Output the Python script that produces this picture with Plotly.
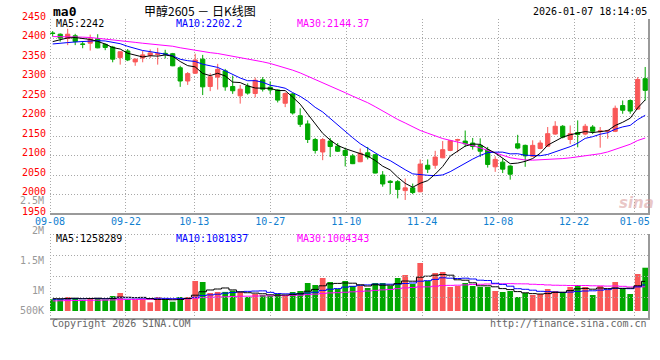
import plotly.graph_objects as go

# ---------------- data ----------------
dates = ["09-08","09-09","09-10","09-11","09-12","09-15","09-16","09-17","09-18","09-19",
         "09-22","09-23","09-24","09-25","09-26","09-29","09-30",
         "10-09","10-10","10-13","10-14","10-15","10-16","10-17","10-20","10-21","10-22","10-23","10-24",
         "10-27","10-28","10-29","10-30","10-31",
         "11-03","11-04","11-05","11-06","11-07","11-10","11-11","11-12","11-13","11-14",
         "11-17","11-18","11-19","11-20","11-21","11-24","11-25","11-26","11-27","11-28",
         "12-01","12-02","12-03","12-04","12-05","12-08","12-09","12-10","12-11","12-12",
         "12-15","12-16","12-17","12-18","12-19","12-22","12-23","12-24","12-25","12-26",
         "12-29","12-30","12-31","01-05","01-06","01-07"]

opens  = [2414,2411,2400,2407,2386,2388,2399,2385,2378,2351,2368,2340,2350,2357,2359,2362,2361,2325,2291,2311,
          2347,2277,2301,2317,2277,2253,2278,2259,2294,2275,2268,2234,2258,2202,2181,2141,2109,2137,2124,2113,
          2099,2084,2107,2102,2050,2034,2033,2010,2017,2007,2075,2075,2094,2113,2139,2137,2132,2126,2114,2071,
          2083,2073,2130,2126,2098,2118,2124,2155,2175,2141,2159,2155,2173,2161,2162,2162,2228,2241,2219,2297]
highs  = [2419,2413,2425,2412,2392,2410,2411,2387,2381,2367,2373,2349,2368,2372,2376,2371,2363,2330,2314,2361,
          2358,2311,2335,2322,2305,2281,2285,2300,2301,2290,2270,2262,2260,2221,2190,2145,2145,2145,2132,2120,
          2104,2118,2122,2104,2060,2037,2037,2041,2028,2090,2090,2112,2137,2140,2143,2164,2145,2144,2122,2098,
          2093,2075,2153,2128,2139,2139,2173,2188,2178,2177,2190,2181,2178,2173,2166,2228,2241,2244,2301,2327]
lows   = [2405,2392,2383,2383,2375,2369,2375,2370,2339,2333,2342,2330,2339,2350,2333,2349,2329,2276,2281,2309,
          2255,2265,2269,2266,2258,2233,2256,2249,2264,2258,2236,2224,2205,2173,2132,2105,2088,2096,2109,2072,
          2078,2083,2090,2054,2020,2001,1990,1986,2001,2006,2055,2066,2093,2111,2108,2122,2115,2096,2069,2058,
          2055,2038,2116,2071,2096,2116,2122,2153,2144,2129,2121,2152,2155,2120,2143,2160,2207,2207,2217,2241]
closes = [2413,2401,2411,2392,2385,2399,2376,2377,2347,2366,2345,2347,2358,2363,2361,2360,2330,2291,2310,2345,
          2276,2302,2321,2276,2266,2270,2260,2293,2270,2268,2242,2259,2209,2180,2141,2113,2141,2123,2111,2100,
          2079,2106,2096,2055,2027,2031,2013,2017,2005,2078,2065,2096,2115,2138,2141,2130,2123,2111,2077,2090,
          2065,2052,2119,2099,2126,2132,2156,2175,2147,2156,2154,2175,2162,2163,2164,2221,2216,2214,2295,2267]
volumes = [857000,857000,895000,878000,845000,878000,878000,845000,912000,962000,
           857000,845000,867000,806000,895000,857000,817000,895000,895000,1162000,
           1145000,962000,978000,980000,1000000,978000,895000,945000,928000,912000,
           945000,912000,978000,995000,1128000,1095000,1212000,1145000,1028000,1162000,
           1078000,1078000,1045000,1128000,1128000,1078000,1212000,1262000,1112000,1462000,
           1162000,1295000,1312000,1062000,1078000,1128000,1078000,1062000,1062000,995000,
           978000,995000,895000,962000,928000,945000,1028000,995000,978000,1062000,
           1095000,1062000,928000,1078000,1012000,1145000,1028000,945000,1278000,1383000]

# sessions before 09-08 (only needed to start the moving averages)
prior_closes = [2400,2405,2410,2420,2425,2430,2428,2420,2415,2418,2422,2425,2420,2412,2408,
                2405,2410,2412,2404,2401,2392,2385,2376,2372,2375,2380,2384,2388,2395]
prior_volumes = [800000,780000,850000,820000,790000,840000,810000,830000,800000,770000,
                 860000,820000,800000,840000,810000,790000,830000,820000,850000,820000,
                 840000,860000,830000,850000,855000,860000,880000,850000,888000]

tick_dates = ["09-08","09-22","10-13","10-27","11-10","11-24","12-08","12-22","01-05"]
price_ticks = [1950,2000,2050,2100,2150,2200,2250,2300,2350,2400,2450]
vol_tick_values = [500000,1000000,1500000,2000000,2500000]
vol_tick_labels = ["500K","1M","1.5M","2M","2.5M"]
price_ma_text = ["MA5:2242","MA10:2202.2","MA30:2144.37"]
vol_ma_text = ["MA5:1258289","MA10:1081837","MA30:1004343"]
title_text = "甲醇2605 － 日K线图"
code_text = "ma0"
time_text = "2026-01-07 18:14:05"
copyright_text = "Copyright 2026 SINA.COM"
url_text = "http://finance.sina.com.cn"

# ---------------- style ----------------
W, H = 660, 360
RED, GREEN = "#F95858", "#00A800"
MA_COLORS = ["#000000", "#0000FF", "#FF00FF"]
GRID = "#A8A8A8"
FRAME = "#9A9A9A"
MONO = "DejaVu Sans Mono"

def ma(series, prior, n):
    full = prior + series
    off = len(prior)
    return [sum(full[off + i - n + 1: off + i + 1]) / n for i in range(len(series))]

def px(xp):
    return xp / W

def py(yp):
    return 1 - yp / H

xs = list(range(len(dates)))
N = len(dates)
# candle i drawn at pixel 52.7 + 7.5*i ; plot spans 50..649 px
x0_px, step_px = 52.7, 7.5
x_range = [(50 - x0_px) / step_px, (649 - x0_px) / step_px]
# Sina places the date grid at 50 + i*600/(N-1) px
tick_pos = [(50 + dates.index(d) * 600 / (N - 1) - x0_px) / step_px for d in tick_dates]

# volume pane: value <-> pixel (labels 1M at y=290.7, 1.5M at y=260.7)
def vol_at(yp):
    return (350.7 - yp) / 60 * 1e6

def vol_px(v):
    return 350.7 - v / 1e6 * 60

vol_base = vol_at(311)

fig = go.Figure()

fig.add_trace(go.Candlestick(
    x=xs, open=opens, high=highs, low=lows, close=closes,
    increasing=dict(line=dict(color=RED, width=1), fillcolor=RED),
    decreasing=dict(line=dict(color=GREEN, width=1), fillcolor=GREEN),
    whiskerwidth=0, hoverinfo="skip", xaxis="x", yaxis="y", showlegend=False))

for n, c in zip([30, 10, 5], [MA_COLORS[2], MA_COLORS[1], MA_COLORS[0]]):
    fig.add_trace(go.Scatter(x=xs, y=ma(closes, prior_closes, n), mode="lines",
                             line=dict(color=c, width=1), hoverinfo="skip",
                             xaxis="x", yaxis="y", showlegend=False))

bar_colors = [RED if c >= o else GREEN for o, c in zip(opens, closes)]
fig.add_trace(go.Bar(x=xs, y=[v - vol_base for v in volumes], base=vol_base,
                     marker=dict(color=bar_colors, line=dict(width=0)), width=0.76,
                     hoverinfo="skip", xaxis="x2", yaxis="y2", showlegend=False))

for n, c in zip([30, 10, 5], [MA_COLORS[2], MA_COLORS[1], MA_COLORS[0]]):
    fig.add_trace(go.Scatter(x=xs, y=ma(volumes, prior_volumes, n), mode="lines",
                             line=dict(color=c, width=1, shape="hvh"), hoverinfo="skip",
                             xaxis="x2", yaxis="y2", showlegend=False))

xcommon = dict(range=x_range, tickvals=tick_pos, showgrid=True, gridcolor=GRID,
               griddash="1px,2px", gridwidth=1, zeroline=False, showline=False, ticks="",
               fixedrange=True, automargin=False)

fig.update_layout(
    width=W, height=H, autosize=False, margin=dict(l=0, r=0, t=0, b=0, pad=0),
    paper_bgcolor="white", plot_bgcolor="white", showlegend=False,
    boxgap=0.2,
    xaxis=dict(domain=[px(50), px(649)], anchor="y", ticktext=tick_dates,
               tickfont=dict(family=MONO, size=10, color="#1080D0"),
               rangeslider=dict(visible=False), ticklabelstandoff=0, **xcommon),
    xaxis2=dict(domain=[px(50), px(649)], anchor="y2", matches="x",
                showticklabels=False, **xcommon),
    yaxis=dict(domain=[py(214), py(19)], range=[1950, 2450], tickvals=price_ticks,
               tickfont=dict(family=MONO, size=10, color="#FF0000"),
               showgrid=True, gridcolor=GRID, griddash="1px,2px", gridwidth=1,
               zeroline=False, showline=False, ticks="", ticklabelshift=-3,
               ticklabelstandoff=3, fixedrange=True, automargin=False),
    yaxis2=dict(domain=[py(319), py(234)], range=[vol_at(319), vol_at(234)],
                showgrid=False, zeroline=False, showticklabels=False, ticks="",
                fixedrange=True, automargin=False),
)

shapes = []
def hline(y, x0, x1, color, width, dash=None):
    shapes.append(dict(type="line", xref="paper", yref="paper", x0=px(x0), x1=px(x1),
                       y0=py(y), y1=py(y), line=dict(color=color, width=width, dash=dash)))
def vline(x, y0, y1, color, width, dash=None):
    shapes.append(dict(type="line", xref="paper", yref="paper", x0=px(x), x1=px(x),
                       y0=py(y0), y1=py(y1), line=dict(color=color, width=width, dash=dash)))

# price pane frame
hline(214, 50, 650, FRAME, 2)
vline(649, 19, 215, FRAME, 2)
vline(50.5, 19, 214, GRID, 1, "1px,2px")
# volume pane frame and grid
hline(234.5, 50, 649, GRID, 1, "1px,2px")
for gy in [255.5, 276.5, 297.5]:
    hline(gy, 50, 649, GRID, 1, "1px,2px")
hline(319, 50, 650, FRAME, 2)
vline(649, 234, 320, FRAME, 2)
vline(50.5, 234, 319, GRID, 1, "1px,2px")
fig.update_layout(shapes=shapes)

ann = []
def text(x, y, s, color="#000", size=10, xanchor="left", family=MONO, **kw):
    ann.append(dict(xref="paper", yref="paper", x=px(x), y=py(y), text=s, showarrow=False,
                    xanchor=xanchor, yanchor="middle", font=dict(family=family, size=size, color=color), **kw))

text(51, 11, "<b>" + code_text + "</b>", size=13)
text(200, 10, title_text, size=12, xanchor="center", family="Noto Sans CJK SC")
text(649, 12, time_text, xanchor="right")
for s, xp, c in zip(price_ma_text, [54, 174, 295], MA_COLORS):
    text(xp, 24, s, color=c)
for s, xp, c in zip(vol_ma_text, [54, 174, 295], MA_COLORS):
    text(xp, 238.5, s, color=c)
text(50, 323, copyright_text, color="#666666")
text(649, 323, url_text, color="#666666", xanchor="right")
text(636, 203, "<b><i>sina</i></b>", color="rgba(215,150,150,0.55)", size=15, xanchor="center",
     family="DejaVu Sans")

# volume axis labels (Sina draws them on its own spacing; 500K is lifted above the frame)
for v, lab in zip(vol_tick_values, vol_tick_labels):
    yp = vol_px(v)
    if yp > 312:
        yp = 310.7
    text(46, yp, lab, color="#999999", xanchor="right")
fig.update_layout(annotations=ann)

fig.write_html("out.html", config={"displayModeBar": False, "responsive": False})
